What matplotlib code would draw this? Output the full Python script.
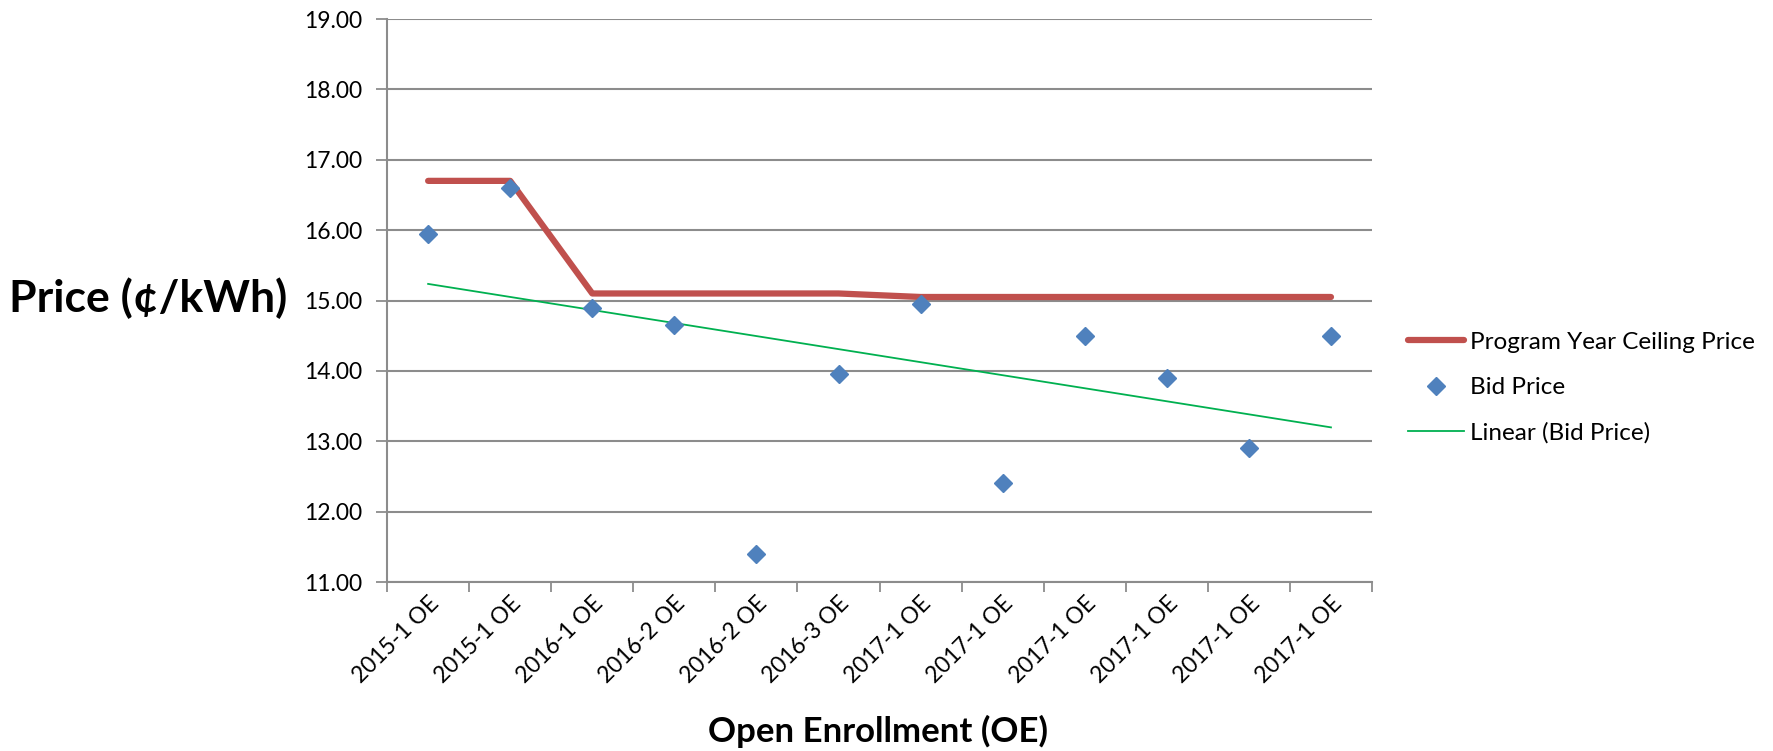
import numpy as np
import matplotlib.pyplot as plt

categories = ["2015-1 OE", "2015-1 OE", "2016-1 OE", "2016-2 OE", "2016-2 OE", "2016-3 OE",
              "2017-1 OE", "2017-1 OE", "2017-1 OE", "2017-1 OE", "2017-1 OE", "2017-1 OE"]
ceiling_price = [16.70, 16.70, 15.10, 15.10, 15.10, 15.10, 15.05, 15.05, 15.05, 15.05, 15.05, 15.05]
bid_price = [15.95, 16.60, 14.90, 14.65, 11.40, 13.95, 14.95, 12.40, 14.50, 13.90, 12.90, 14.50]
y_ticks = [11, 12, 13, 14, 15, 16, 17, 18, 19]

plt.rcParams['font.family'] = ['Lato', 'DejaVu Sans']

fig = plt.figure(figsize=(17.74, 7.51), dpi=100)
ax = fig.add_axes([0.2182, 0.225, 0.5552, 0.7497])

x = np.arange(len(categories))
# excel style linear trendline
slope, icpt = np.polyfit(x, bid_price, 1)
trend = slope * x + icpt

ax.plot(x, ceiling_price, color="#C0504D", lw=4.5, solid_capstyle="round",
        label="Program Year Ceiling Price", zorder=3)
ax.plot(x, bid_price, ls="none", marker="D", ms=9.5, color="#4F81BD",
        label="Bid Price", zorder=4)
ax.plot(x, trend, color="#00B050", lw=1.3, label="Linear (Bid Price)", zorder=3)

ax.set_xlim(-0.5, len(categories) - 0.5)
ax.set_ylim(11, 19)
ax.set_yticks(y_ticks)
ax.set_yticklabels(["%.2f" % v for v in y_ticks], fontsize=16.5)
ax.yaxis.grid(True, color="#8c8c8c", lw=1.5)
ax.set_axisbelow(True)

ax.set_xticks(x)
ax.set_xticklabels(categories, rotation=45, ha="right", rotation_mode="anchor", fontsize=16.5)
ax.set_xticks(np.arange(-0.5, len(categories)), minor=True)
ax.tick_params(axis="x", which="major", length=0, pad=8)
ax.tick_params(axis="x", which="minor", length=7, color="#8c8c8c", width=1.3)
ax.tick_params(axis="y", length=8, color="#8c8c8c", width=1.3, pad=10)

for s in ["top", "right"]:
    ax.spines[s].set_visible(False)
for s in ["left", "bottom"]:
    ax.spines[s].set_color("#8c8c8c")
    ax.spines[s].set_linewidth(1.5)

ax.set_ylabel("Price (¢/kWh)", fontsize=32, fontweight="bold", rotation=0,
              ha="center", va="center")
ax.yaxis.set_label_coords(-0.243, 0.504)
fig.text(0.495, 0.026, "Open Enrollment (OE)", fontsize=25, fontweight="bold",
         ha="center", va="center")

ax.legend(loc="center left", bbox_to_anchor=(1.014, 0.345), frameon=False, fontsize=17.5,
          handlelength=2.3, handletextpad=0.25, labelspacing=1.0)

fig.savefig("out.png", dpi=100)
